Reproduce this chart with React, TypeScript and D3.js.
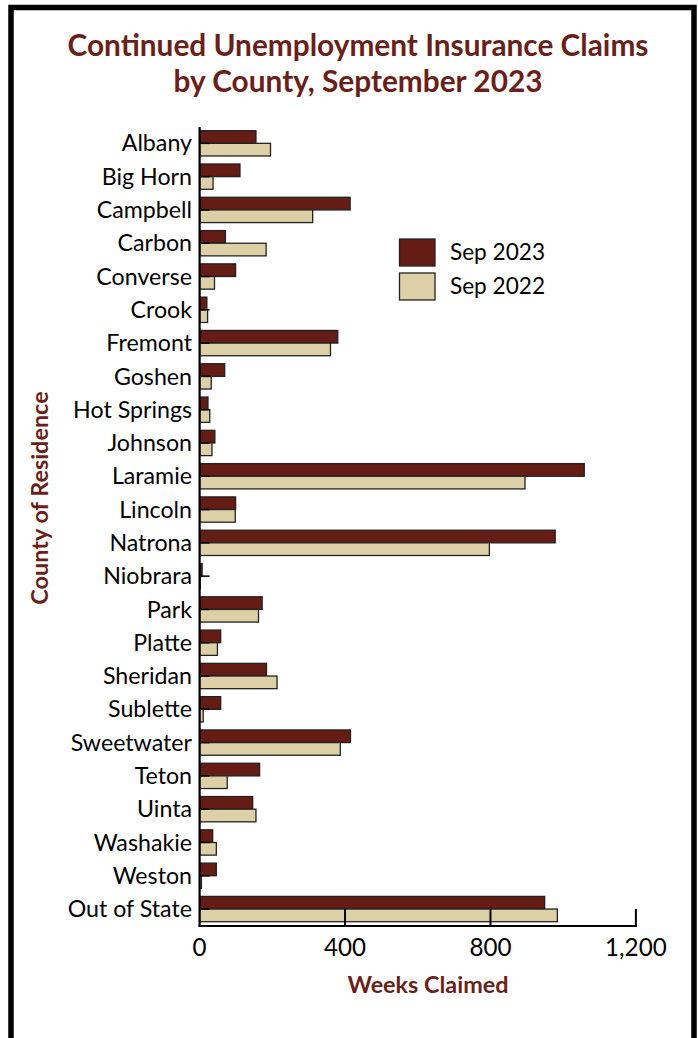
import React from "react";
import * as d3 from "d3";

const counties = [
  "Albany", "Big Horn", "Campbell", "Carbon", "Converse", "Crook", "Fremont",
  "Goshen", "Hot Springs", "Johnson", "Laramie", "Lincoln", "Natrona", "Niobrara",
  "Park", "Platte", "Sheridan", "Sublette", "Sweetwater", "Teton", "Uinta",
  "Washakie", "Weston", "Out of State",
];
const sep2023 = [155, 111, 414, 71, 99, 20, 380, 69, 23, 42, 1058, 99, 978, 7, 172, 58, 184, 58, 415, 165, 146, 36, 46, 949];
const sep2022 = [195, 37, 311, 183, 41, 22, 360, 32, 28, 34, 895, 98, 797, 2, 162, 49, 213, 10, 387, 76, 155, 46, 5, 984];
const seriesNames = ["Sep 2023", "Sep 2022"];
const xTicks = [0, 400, 800, 1200];

const RED = "#641c14";
const BEIGE = "#ddd0a6";
const TITLE = "#6b1f1a";
const FONT = "Lato, sans-serif";

export default function App() {
  const W = 698, H = 1038;
  const x = d3.scaleLinear().domain([0, 1200]).range([199.6, 635.9]);
  const y = d3.scaleBand<string>().domain(counties).range([126.7, 925.7]).paddingInner(0.24).paddingOuter(0.12);
  const inner = d3.scaleBand<string>().domain(seriesNames).range([0, y.bandwidth()]);
  const fmt = d3.format(",");
  const series = [sep2023, sep2022];
  const colors = [RED, BEIGE];
  const axisY = 926;
  return (
    <div style={{ position: "absolute", left: 0, top: 0 }}>
      <svg width={W} height={H} style={{ display: "block", background: "#fff" }}>
        <rect x={11} y={7.5} width={683} height={1040} fill="none" stroke="#000" strokeWidth={5.5} />
        <text x={358} y={56} textAnchor="middle" fontFamily={FONT} fontWeight={700} fontSize={29.8} fill={TITLE}>
          Continued Unemployment Insurance Claims
        </text>
        <text x={358} y={92} textAnchor="middle" fontFamily={FONT} fontWeight={700} fontSize={29.8} fill={TITLE}>
          by County, September 2023
        </text>
        {series.map((vals, si) =>
          counties.map((c, i) => (
            <rect key={c + si}
              x={x(0)} y={(y(c) as number) + (inner(seriesNames[si]) as number)}
              width={Math.max(0, x(vals[i]) - x(0))} height={inner.bandwidth()}
              fill={colors[si]} stroke="#222" strokeWidth={1.3} />
          ))
        )}
        {counties.map((c) => {
          const cy = (y(c) as number) + y.bandwidth() / 2;
          return (
            <g key={c}>
              <line x1={x(0)} x2={x(0) + 10} y1={cy} y2={cy} stroke="#000" strokeWidth={1.5} />
              <text x={192} y={cy} dy="0.35em" textAnchor="end" fontFamily={FONT} fontSize={23.2} fill="#000">{c}</text>
            </g>
          );
        })}
        <line x1={x(0)} x2={x(0)} y1={127} y2={axisY + 1} stroke="#000" strokeWidth={2.2} />
        <line x1={x(0) - 1} x2={x(1200) + 1} y1={axisY} y2={axisY} stroke="#000" strokeWidth={2.2} />
        {xTicks.map((t) => (
          <g key={t}>
            {t > 0 && <line x1={x(t)} x2={x(t)} y1={axisY} y2={axisY - 17} stroke="#000" strokeWidth={2} />}
            <text x={x(t)} y={956} textAnchor="middle" fontFamily={FONT} fontSize={24.2} fill="#000">{fmt(t)}</text>
          </g>
        ))}
        <text x={428} y={993} textAnchor="middle" fontFamily={FONT} fontWeight={700} fontSize={23.4} fill={TITLE}>Weeks Claimed</text>
        <text transform="translate(48,498) rotate(-90)" textAnchor="middle" fontFamily={FONT} fontWeight={700} fontSize={23.4} fill={TITLE}>County of Residence</text>
        {seriesNames.map((s, i) => (
          <g key={s}>
            <rect x={399.5} y={239 + i * 34} width={35.5} height={27} fill={colors[i]} stroke="#222" strokeWidth={1.3} />
            <text x={450} y={252.5 + i * 34} dy="0.35em" fontFamily={FONT} fontSize={22.6} fill="#000">{s}</text>
          </g>
        ))}
      </svg>
    </div>
  );
}
